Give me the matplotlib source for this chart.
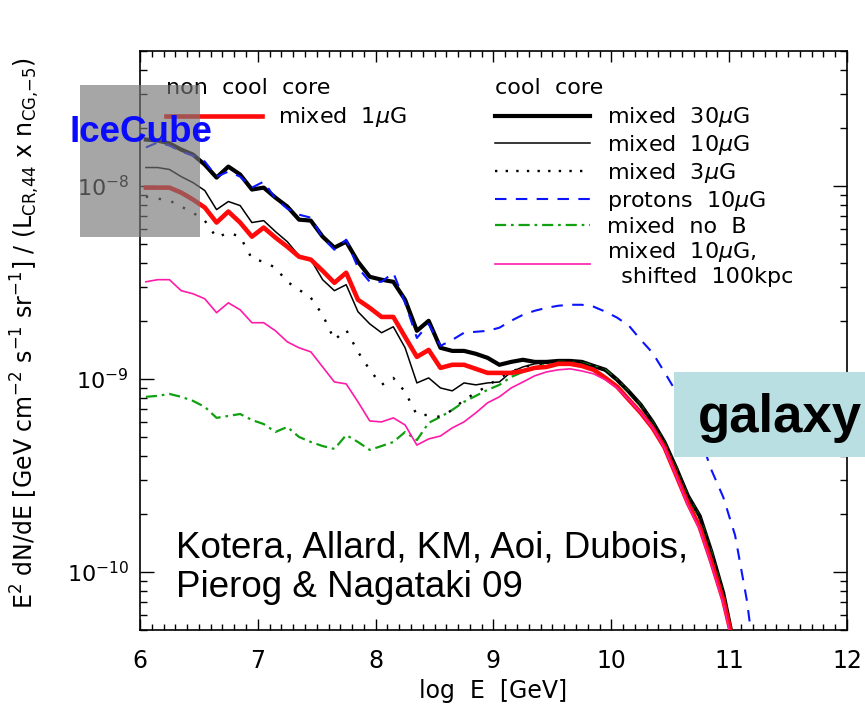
import numpy as np
import matplotlib
matplotlib.use('Agg')
import matplotlib.pyplot as plt
from matplotlib.patches import Rectangle
from matplotlib.lines import Line2D
from matplotlib.ticker import NullFormatter, FixedLocator

plt.rcParams['font.family'] = 'DejaVu Sans'
plt.rcParams['mathtext.fontset'] = 'dejavusans'

# energy bins, log10(E/GeV)
log_e = [6.05, 6.15, 6.25, 6.35, 6.45, 6.55, 6.65, 6.75, 6.85, 6.95,
         7.05, 7.15, 7.25, 7.35, 7.45, 7.55, 7.65, 7.75, 7.85, 7.95,
         8.05, 8.15, 8.25, 8.35, 8.45, 8.55, 8.65, 8.75, 8.85, 8.95,
         9.05, 9.15, 9.25, 9.35, 9.45, 9.55, 9.65, 9.75, 9.85, 9.95,
         10.05, 10.15, 10.25, 10.35, 10.45, 10.55, 10.65, 10.75, 10.85, 10.95,
         11.05]
log_e_protons = log_e + [11.15, 11.25]

# log10 of E^2 dN/dE
mixed_30uG = [-7.760, -7.765, -7.780, -7.812, -7.838, -7.890, -7.957, -7.900, -7.941, -8.019,
              -8.009, -8.061, -8.107, -8.175, -8.180, -8.263, -8.320, -8.289, -8.393, -8.471,
              -8.486, -8.497, -8.590, -8.751, -8.699, -8.839, -8.855, -8.855, -8.870, -8.891,
              -8.927, -8.912, -8.901, -8.912, -8.912, -8.907, -8.907, -8.912, -8.933, -8.953,
              -9.005, -9.067, -9.135, -9.223, -9.327, -9.462, -9.607, -9.711, -9.898, -10.111,
              -10.406]
mixed_10uG = [-7.905, -7.905, -7.915, -7.952, -7.983, -8.024, -8.123, -8.081, -8.102, -8.190,
              -8.180, -8.237, -8.289, -8.362, -8.382, -8.486, -8.543, -8.512, -8.652, -8.715,
              -8.761, -8.730, -8.839, -9.021, -8.995, -9.047, -9.062, -9.021, -9.031, -9.021,
              -9.016, -8.964, -8.938, -8.922, -8.917, -8.912, -8.912, -8.917, -8.938, -8.959,
              -9.010, -9.070, -9.140, -9.226, -9.330, -9.465, -9.610, -9.715, -9.902, -10.115,
              -10.410]
mixed_3uG = [-8.056, -8.066, -8.076, -8.107, -8.139, -8.180, -8.268, -8.242, -8.263, -8.377,
             -8.393, -8.424, -8.497, -8.538, -8.580, -8.668, -8.798, -8.746, -8.860, -8.953,
             -9.031, -8.995, -9.067, -9.187, -9.187, -9.197, -9.161, -9.109, -9.072, -9.036,
             -8.995, -8.964, -8.938, -8.927, -8.917, -8.912, -8.907, -8.912, -8.933, -8.955,
             -9.007, -9.068, -9.137, -9.224, -9.328, -9.463, -9.608, -9.713, -9.900, -10.113,
             -10.408]
mixed_1uG_ncc = [-8.009, -8.009, -8.009, -8.035, -8.071, -8.112, -8.190, -8.133, -8.190, -8.263,
                 -8.216, -8.268, -8.315, -8.367, -8.382, -8.440, -8.502, -8.450, -8.590, -8.632,
                 -8.679, -8.679, -8.783, -8.886, -8.850, -8.943, -8.927, -8.927, -8.948, -8.969,
                 -8.969, -8.969, -8.959, -8.943, -8.938, -8.922, -8.922, -8.933, -8.953, -8.995,
                 -9.041, -9.109, -9.176, -9.254, -9.353, -9.498, -9.644, -9.768, -9.950, -10.147,
                 -10.406]
protons_10uG = [-7.801, -7.775, -7.791, -7.822, -7.843, -7.874, -7.952, -7.926, -7.952, -8.009,
                -7.978, -8.066, -8.118, -8.149, -8.165, -8.268, -8.331, -8.279, -8.424, -8.497,
                -8.497, -8.450, -8.606, -8.788, -8.715, -8.829, -8.798, -8.761, -8.756, -8.751,
                -8.735, -8.699, -8.668, -8.647, -8.632, -8.621, -8.616, -8.616, -8.626, -8.652,
                -8.683, -8.725, -8.798, -8.865, -8.964, -9.067, -9.161, -9.296, -9.473, -9.613,
                -9.810, -10.147, -10.614]
mixed_noB = [-9.093, -9.088, -9.078, -9.093, -9.114, -9.145, -9.202, -9.192, -9.182, -9.213,
             -9.234, -9.275, -9.249, -9.301, -9.327, -9.348, -9.363, -9.291, -9.327, -9.368,
             -9.348, -9.327, -9.275, -9.317, -9.228, -9.197, -9.161, -9.119, -9.088, -9.057,
             -9.031, -8.990, -8.964, -8.943, -8.922, -8.912, -8.912, -8.917, -8.933, -8.955,
             -9.008, -9.070, -9.138, -9.226, -9.330, -9.465, -9.610, -9.715, -9.900, -10.115,
             -10.410]
mixed_10uG_shifted = [-8.497, -8.486, -8.486, -8.543, -8.559, -8.585, -8.657, -8.606, -8.642, -8.709,
                      -8.709, -8.751, -8.808, -8.839, -8.860, -8.938, -9.016, -9.026, -9.119, -9.218,
                      -9.223, -9.202, -9.239, -9.343, -9.311, -9.296, -9.254, -9.223, -9.176, -9.124,
                      -9.093, -9.047, -9.016, -8.984, -8.964, -8.953, -8.948, -8.959, -8.974, -9.005,
                      -9.047, -9.109, -9.176, -9.254, -9.358, -9.503, -9.655, -9.779, -9.966, -10.163,
                      -10.432]

y_major = [1e-10, 1e-9, 1e-8]

fig = plt.figure(figsize=(8.65, 7.12), dpi=100)
ax = fig.add_axes([0.1618, 0.1152, 0.8174, 0.8132])

def f(v):
    return 10 ** np.asarray(v)

RED = '#ff0a0a'
BLUE = '#0a14ff'
GREEN = '#10a010'
PINK = '#ff1aa8'

ax.plot(log_e, f(mixed_30uG), color='k', lw=3.0, zorder=3)
ax.plot(log_e, f(mixed_noB), color=GREEN, lw=1.6, ls=(0, (5, 2.2, 1.2, 2.2)), zorder=4)
ax.plot(log_e, f(mixed_3uG), color='k', lw=1.7, ls=(0, (1, 4.5)), zorder=4)
ax.plot(log_e, f(mixed_10uG), color='k', lw=1.1, zorder=4)
ax.plot(log_e_protons, f(protons_10uG), color=BLUE, lw=1.5, ls=(0, (5.5, 4.5)), zorder=5)
ax.plot(log_e, f(mixed_1uG_ncc), color=RED, lw=3.3, zorder=5)
ax.plot(log_e, f(mixed_10uG_shifted), color=PINK, lw=1.2, zorder=5)

ax.set_yscale('log')
ax.set_xlim(6, 12)
ax.set_ylim(5e-11, 5e-8)
ax.yaxis.set_major_locator(FixedLocator(y_major))
ax.yaxis.set_minor_formatter(NullFormatter())
ax.set_xticks([6, 7, 8, 9, 10, 11, 12])
ax.set_xticks(np.arange(6, 12.01, 0.1), minor=True)
ax.tick_params(which='both', direction='in', top=True, right=True)
ax.tick_params(axis='x', which='major', length=8, width=1, pad=14, labelsize=17)
ax.tick_params(axis='x', which='minor', length=4, width=1)
ax.tick_params(axis='y', which='major', length=10, width=1, pad=8, labelsize=16)
ax.tick_params(axis='y', which='minor', length=5, width=1)
for s in ax.spines.values():
    s.set_linewidth(1.2)

ax.set_xlabel('log  E  [GeV]', fontsize=17, labelpad=4)
ax.set_ylabel(r'E$^2$ dN/dE [GeV cm$^{-2}$ s$^{-1}$ sr$^{-1}$] / (L$_{\rm CR{,}44}$ x n$_{\rm CG{,}{-}5}$)',
              fontsize=17)
ax.yaxis.set_label_coords(-0.1386, 0.513)

# legends (titles as separate texts)
ax.text(0.0368, 0.936, 'non  cool  core', transform=ax.transAxes, fontsize=16,
        ha='left', va='center')
ax.text(0.502, 0.936, 'cool  core', transform=ax.transAxes, fontsize=16,
        ha='left', va='center')

h_ncc = [Line2D([], [], color=RED, lw=3.3)]
leg1 = ax.legend(h_ncc, [r'mixed  1$\mu$G'], loc='upper left',
                 bbox_to_anchor=(0.0368, 0.906), frameon=False, fontsize=16,
                 handlelength=4.3, handletextpad=0.75, borderpad=0, borderaxespad=0)
ax.add_artist(leg1)

h_cc = [Line2D([], [], color='k', lw=3.0),
        Line2D([], [], color='k', lw=1.1),
        Line2D([], [], color='k', lw=1.7, ls=(0, (1, 3.5))),
        Line2D([], [], color=BLUE, lw=1.5, ls=(0, (5.5, 4.5))),
        Line2D([], [], color=GREEN, lw=1.6, ls=(0, (5, 2.2, 1.2, 2.2))),
        Line2D([], [], color=PINK, lw=1.2)]
labels_cc = [r'mixed  30$\mu$G', r'mixed  10$\mu$G', r'mixed  3$\mu$G', r'protons  10$\mu$G',
             'mixed  no  B', 'mixed  10$\\mu$G,\n  shifted  100kpc']
ax.legend(h_cc, labels_cc, loc='upper left',
          bbox_to_anchor=(0.502, 0.906), frameon=False, fontsize=16,
          handlelength=4.3, handletextpad=0.75, borderpad=0, borderaxespad=0,
          labelspacing=0.17)

# overlays
fig.patches.append(Rectangle((80 / 865, 1 - 237 / 712), 120 / 865, 152 / 712,
                             transform=fig.transFigure, figure=fig,
                             facecolor='#767676', alpha=0.65, edgecolor='none', zorder=10))
fig.text(70 / 865, 1 - 133 / 712, 'IceCube', fontsize=26.5, fontweight='bold',
         family='Liberation Sans', color='#0a0aff', ha='left', va='center', zorder=11)

fig.patches.append(Rectangle((674 / 865, 1 - 457 / 712), 191 / 865, 85 / 712,
                             transform=fig.transFigure, figure=fig,
                             facecolor='#b9dfe2', edgecolor='none', zorder=10))
fig.text(698 / 865, 1 - 432 / 712, 'galaxy', fontsize=38, fontweight='bold',
         family='Liberation Sans', color='k', ha='left', va='baseline', zorder=11)

fig.text(176 / 865, 1 - 557 / 712, 'Kotera, Allard, KM, Aoi, Dubois,', fontsize=26.5,
         family='Liberation Sans', ha='left', va='baseline', zorder=11)
fig.text(176 / 865, 1 - 597 / 712, 'Pierog & Nagataki 09', fontsize=26.5,
         family='Liberation Sans', ha='left', va='baseline', zorder=11)

fig.savefig('out.png', dpi=100)
